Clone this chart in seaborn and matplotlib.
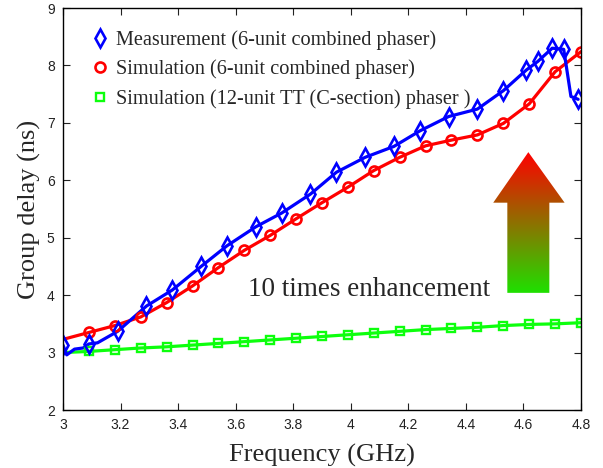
import numpy as np
import pandas as pd
import matplotlib
matplotlib.use("Agg")
import matplotlib.pyplot as plt
import seaborn as sns
from matplotlib.lines import Line2D
from matplotlib.patches import Polygon

# ---- data ----
meas_line_x = [3.00, 3.013, 3.04, 3.07, 3.09, 3.12, 3.19, 3.29, 3.38, 3.48, 3.57, 3.67, 3.76, 3.86,
               3.95, 4.05, 4.15, 4.24, 4.34, 4.44, 4.53, 4.61, 4.65, 4.70, 4.74, 4.765, 4.79]
meas_line_y = [3.13, 2.96, 3.06, 3.08, 3.15, 3.17, 3.37, 3.81, 4.09, 4.50, 4.86, 5.19, 5.43, 5.76,
               6.14, 6.40, 6.59, 6.86, 7.11, 7.24, 7.56, 7.92, 8.07, 8.30, 8.28, 7.46, 7.41]
meas_mark_x = [3.00, 3.09, 3.19, 3.29, 3.38, 3.48, 3.57, 3.67, 3.76, 3.86, 3.95, 4.05, 4.15,
               4.24, 4.34, 4.44, 4.53, 4.61, 4.65, 4.70, 4.74, 4.79]
meas_mark_y = [3.13, 3.15, 3.37, 3.81, 4.09, 4.50, 4.86, 5.19, 5.43, 5.76, 6.14, 6.40, 6.59,
               6.86, 7.11, 7.24, 7.56, 7.92, 8.07, 8.30, 8.28, 7.41]

sim6_line_x = [3.00, 3.09, 3.18, 3.27, 3.36, 3.45, 3.54, 3.63, 3.72, 3.81, 3.90, 3.99, 4.08,
               4.17, 4.26, 4.35, 4.44, 4.53, 4.62, 4.71, 4.80]
sim6_line_y = [3.23, 3.35, 3.47, 3.62, 3.87, 4.16, 4.48, 4.78, 5.04, 5.33, 5.61, 5.88, 6.17,
               6.40, 6.60, 6.70, 6.79, 6.99, 7.33, 7.89, 8.24]

sim12_line_x = [3.00, 3.09, 3.18, 3.27, 3.36, 3.45, 3.54, 3.63, 3.72, 3.81, 3.90, 3.99, 4.08,
                4.17, 4.26, 4.35, 4.44, 4.53, 4.62, 4.71, 4.80]
sim12_line_y = [3.00, 3.02, 3.05, 3.08, 3.10, 3.13, 3.16, 3.19, 3.22, 3.25, 3.28, 3.31, 3.34,
                3.37, 3.40, 3.42, 3.44, 3.47, 3.49, 3.50, 3.52]

legend_labels = ["Measurement (6-unit combined phaser)",
                 "Simulation (6-unit combined phaser)",
                 "Simulation (12-unit TT (C-section) phaser )"]
annotation = "10 times enhancement"
x_ticks = [3, 3.2, 3.4, 3.6, 3.8, 4, 4.2, 4.4, 4.6, 4.8]
x_tick_labels = ["3", "3.2", "3.4", "3.6", "3.8", "4", "4.2", "4.4", "4.6", "4.8"]
y_ticks = [2, 3, 4, 5, 6, 7, 8, 9]

# ---- style ----
sns.set_theme(style="white")
plt.rcParams['font.family'] = ['Liberation Serif', 'DejaVu Serif']
plt.rcParams['mathtext.fontset'] = 'stix'

fig = plt.figure(figsize=(6.03, 4.68), dpi=100)
ax = fig.add_axes([63/603, 1 - 410/468, (581 - 63)/603, (410 - 8)/468])

BLUE = (0, 0, 1)
RED = (1, 0, 0)
GREEN = (0.05, 1, 0.05)
LW = 2.3

# lines
sns.lineplot(x=sim12_line_x, y=sim12_line_y, ax=ax, color=GREEN, lw=LW, sort=False, estimator=None)
sns.lineplot(x=sim6_line_x, y=sim6_line_y, ax=ax, color=RED, lw=LW, sort=False, estimator=None)
sns.lineplot(x=meas_line_x, y=meas_line_y, ax=ax, color=BLUE, lw=LW, sort=False, estimator=None)

# markers (open)
MS_D, MS_O, MS_S = 8.8, 7.2, 5.6
ax.plot(sim12_line_x[1:], sim12_line_y[1:], ls='none', marker='s', ms=MS_S, mfc='none',
        mec=GREEN, mew=1.7)
ax.plot(sim6_line_x[1:], sim6_line_y[1:], ls='none', marker='o', ms=MS_O, mfc='none',
        mec=RED, mew=1.9)
ax.plot(meas_mark_x, meas_mark_y, ls='none', marker='d', ms=MS_D, mfc='none',
        mec=BLUE, mew=1.9)

ax.set_xlim(3, 4.8)
ax.set_ylim(2, 9)
ax.set_xticks(x_ticks)
ax.set_xticklabels(x_tick_labels)
ax.set_yticks(y_ticks)
for lab in ax.get_xticklabels() + ax.get_yticklabels():
    lab.set_fontfamily(['Liberation Sans', 'DejaVu Sans'])
    lab.set_fontsize(10)
    lab.set_color('#222222')
ax.tick_params(direction='in', length=5, width=0.8, top=True, right=True,
               bottom=True, left=True, colors='#222222', pad=6)
for sp in ax.spines.values():
    sp.set_color('black')
    sp.set_linewidth(1.0)

ax.set_xlabel("Frequency (GHz)", fontsize=19, labelpad=8)
ax.set_ylabel("Group delay (ns)", fontsize=19, labelpad=4)

# legend: markers only
handles = [
    Line2D([], [], ls='none', marker='d', ms=MS_D, mfc='none', mec=BLUE, mew=1.9),
    Line2D([], [], ls='none', marker='o', ms=MS_O, mfc='none', mec=RED, mew=1.9),
    Line2D([], [], ls='none', marker='s', ms=MS_S, mfc='none', mec=GREEN, mew=1.7),
]
ax.legend(handles, legend_labels, loc='upper left', frameon=False, fontsize=14.6,
          handlelength=0.8, handletextpad=0.4, labelspacing=0.48,
          bbox_to_anchor=(0.04, 0.965), borderaxespad=0.0)

# annotation
ax.text(3.643, 4.09, annotation, fontsize=19.5, ha='left', va='center')

# gradient arrow
xs0, xs1 = 4.544, 4.690
xh0, xh1 = 4.495, 4.743
xt = 4.617
y_bot, y_base, y_tip = 4.04, 5.61, 6.49
arrow = Polygon([(xs0, y_bot), (xs1, y_bot), (xs1, y_base), (xh1, y_base), (xt, y_tip),
                 (xh0, y_base), (xs0, y_base)], closed=True, facecolor='none',
                edgecolor='none', transform=ax.transData)
ax.add_patch(arrow)
top_c = np.array([1.0, 0.0, 0.0])
bot_c = np.array([0.12, 0.88, 0.0])
t = np.linspace(0, 1, 256)[:, None]
grad = (top_c * (1 - t) + bot_c * t)[:, None, :]
im = ax.imshow(grad, extent=[xh0, xh1, y_bot, y_tip], origin='upper', aspect='auto',
               zorder=1.5, interpolation='bilinear')
im.set_clip_path(arrow)
ax.set_xlim(3, 4.8)
ax.set_ylim(2, 9)

fig.savefig("out.png", dpi=100)
